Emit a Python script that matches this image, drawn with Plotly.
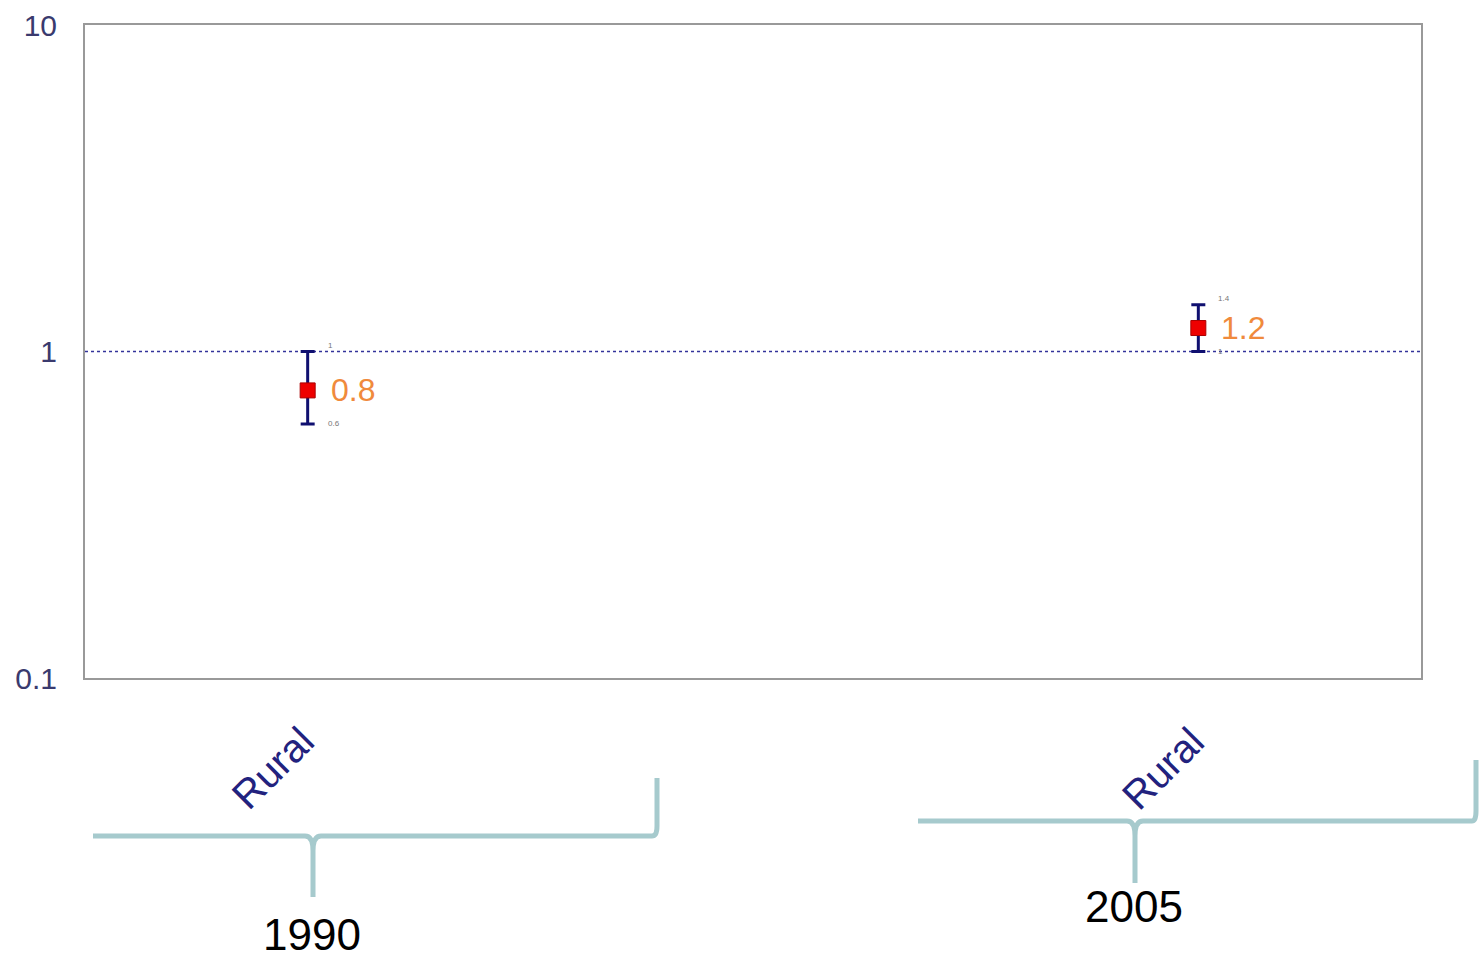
import math
import plotly.graph_objects as go

# ---- data ----
categories = ["Rural", "Rural"]
years = ["1990", "2005"]
x_pos = [0, 1]
or_values = [0.76, 1.18]
ci_low = [0.60, 1.00]
ci_high = [1.00, 1.39]
value_labels = ["0.8", "1.2"]
low_labels = ["0.6", "1"]
high_labels = ["1", "1.4"]
y_tickvals = [0.1, 1, 10]
y_ticktext = ["0.1", "1", "10"]

W, H = 1479, 959
PL, PR, PT, PB = 85, 1421, 25, 678  # plot box in page pixels
L, T = PL, PT
R = W - PR
B = H - PB
PW, PH = PR - PL, PB - PT


def px(xp):
    return (xp - PL) / PW


def py(yp):
    return (PB - yp) / PH


fig = go.Figure()

# reference line at 1
fig.add_trace(go.Scatter(
    x=[-0.25, 1.25], y=[1, 1], mode="lines",
    line=dict(color="#33339a", width=1.3, dash="dot"),
    hoverinfo="skip", showlegend=False,
))

fig.add_trace(go.Scatter(
    x=x_pos, y=or_values, mode="markers",
    marker=dict(symbol="square", size=15, color="#ee0000",
                line=dict(color="#aa0000", width=1)),
    error_y=dict(type="data", symmetric=False,
                 array=[h - v for h, v in zip(ci_high, or_values)],
                 arrayminus=[v - l for l, v in zip(ci_low, or_values)],
                 color="#101070", thickness=3, width=7),
    showlegend=False,
))

annotations = []
for xi, v, lab, lo, hi, lo_t, hi_t in zip(x_pos, or_values, value_labels,
                                          ci_low, ci_high, low_labels, high_labels):
    annotations.append(dict(x=xi, y=math.log10(v), xref="x", yref="y", text=lab,
                            showarrow=False, xanchor="left", yanchor="middle",
                            xshift=21, font=dict(size=32, color="#f08a3c",
                                                 family="Arial")))
    annotations.append(dict(x=xi, y=math.log10(lo), xref="x", yref="y", text=lo_t,
                            showarrow=False, xanchor="left", yanchor="middle",
                            xshift=18, font=dict(size=8, color="#777777")))
    annotations.append(dict(x=xi, y=math.log10(hi), xref="x", yref="y", text=hi_t,
                            showarrow=False, xanchor="left", yanchor="bottom",
                            xshift=18, font=dict(size=8, color="#777777")))

# category labels (rotated)
for xi, cat in zip(x_pos, categories):
    annotations.append(dict(x=xi, y=py(768), xref="x", yref="paper", text=cat,
                            showarrow=False, textangle=-45, xshift=-35,
                            xanchor="center", yanchor="middle",
                            font=dict(size=40, color="#22227e", family="Arial")))

# year labels
year_centres = [(312, 934), (1134, 907)]
for (cx, cy), yr in zip(year_centres, years):
    annotations.append(dict(x=px(cx), y=py(cy), xref="paper", yref="paper",
                            text=yr, showarrow=False,
                            xanchor="center", yanchor="middle",
                            font=dict(size=44, color="#000000", family="Arial")))

# braces
brace_color = "#a6cacd"
braces = [
    dict(x0=93, x1=652, y=836, xc=313, ytip=897, ytop=778, xr=657),
    dict(x0=918, x1=1472, y=821, xc=1135, ytip=883, ytop=760, xr=1476),
]
shapes = []
for b in braces:
    path = (f"M {px(b['x0'])},{py(b['y'])} L {px(b['xc'] - 8)},{py(b['y'])} "
            f"Q {px(b['xc'])},{py(b['y'])} {px(b['xc'])},{py(b['y'] + 15)} "
            f"L {px(b['xc'])},{py(b['ytip'])} "
            f"M {px(b['xc'])},{py(b['y'] + 15)} "
            f"Q {px(b['xc'])},{py(b['y'])} {px(b['xc'] + 8)},{py(b['y'])} "
            f"L {px(b['x1'])},{py(b['y'])} "
            f"Q {px(b['xr'])},{py(b['y'])} {px(b['xr'])},{py(b['y'] - 10)} "
            f"L {px(b['xr'])},{py(b['ytop'])}")
    shapes.append(dict(type="path", xref="paper", yref="paper", path=path,
                       line=dict(color=brace_color, width=5)))

fig.update_layout(
    width=W, height=H,
    margin=dict(l=L, r=R, t=T, b=B, pad=0),
    paper_bgcolor="white", plot_bgcolor="white",
    annotations=annotations, shapes=shapes,
    xaxis=dict(range=[-0.25, 1.25], showgrid=False, zeroline=False,
               showticklabels=False, ticks="", showline=True, automargin=False,
               linecolor="#999999", linewidth=2, mirror=True),
    yaxis=dict(type="log", range=[-1, 1], showgrid=False, zeroline=False,
               tickvals=y_tickvals, ticktext=y_ticktext, ticks="",
               ticklabelstandoff=20, automargin=False,
               tickfont=dict(size=30, color="#3a3a6e", family="Arial"),
               showline=True, linecolor="#999999", linewidth=2, mirror=True),
    font=dict(family="Arial"),
)

fig.write_html("out.html",
               config={"displayModeBar": False},
               post_script="document.body.style.margin='0';document.body.style.overflow='hidden';")
